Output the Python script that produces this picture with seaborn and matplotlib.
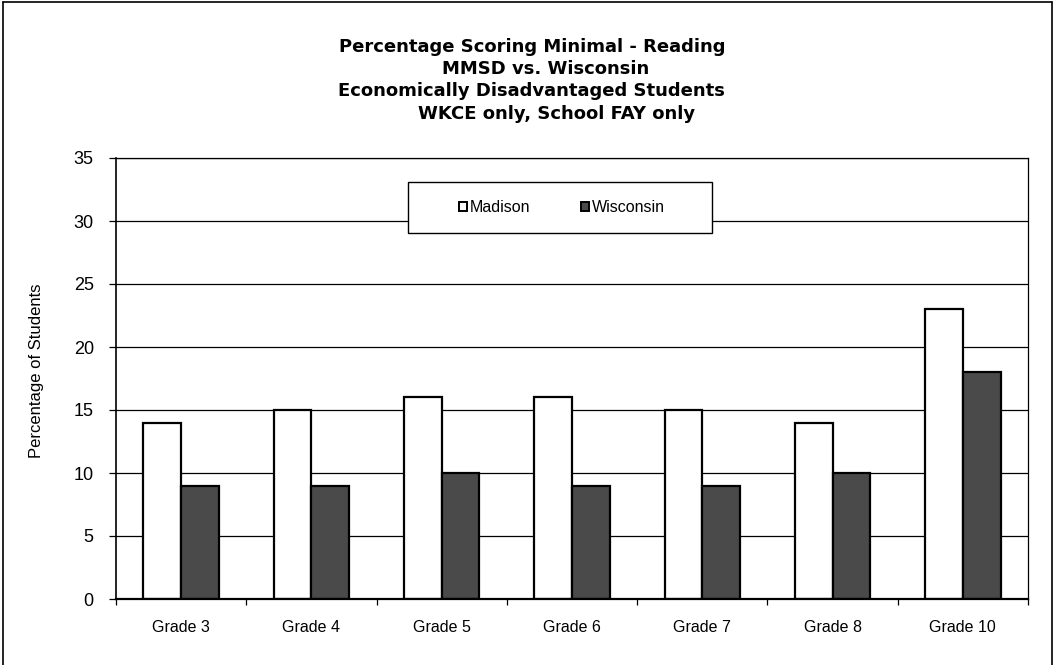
import pandas as pd
import matplotlib
matplotlib.use("Agg")
import matplotlib.pyplot as plt
from matplotlib.lines import Line2D
from matplotlib.patches import Rectangle, Patch
import seaborn as sns

# --- data ---
grades = ["Grade 3", "Grade 4", "Grade 5", "Grade 6", "Grade 7", "Grade 8", "Grade 10"]
madison = [14, 15, 16, 16, 15, 14, 23]
wisconsin = [9, 9, 10, 9, 9, 10, 18]
series = ["Madison", "Wisconsin"]
title_lines = [
    "Percentage Scoring Minimal - Reading",
    "MMSD vs. Wisconsin",
    "Economically Disadvantaged Students",
    "WKCE only, School FAY only",
]

df = pd.DataFrame({
    "grade": grades * 2,
    "district": ["Madison"] * len(grades) + ["Wisconsin"] * len(grades),
    "pct": madison + wisconsin,
})

sns.set_style("white")
plt.rcParams["font.family"] = ["Liberation Sans", "DejaVu Sans"]
plt.rcParams["text.color"] = "black"
plt.rcParams["xtick.color"] = "black"
plt.rcParams["ytick.color"] = "black"

W, H = 1054, 665
fig = plt.figure(figsize=(W / 100, H / 100), dpi=100)
ax = fig.add_axes([116 / W, 1 - 599 / H, (1028 - 116) / W, (599 - 158) / H])

colors = {"Madison": "white", "Wisconsin": "#4a4a4a"}
sns.barplot(data=df, x="grade", y="pct", hue="district", order=grades,
            hue_order=series, palette=colors, width=0.58, gap=0,
            edgecolor="black", linewidth=1.6, saturation=1, legend=False, ax=ax)

ax.set_ylim(0, 35)
ax.set_xlim(-0.5, len(grades) - 0.5)
ax.set_yticks(range(0, 36, 5))
ax.yaxis.grid(True, color="black", linewidth=0.9)
ax.set_axisbelow(True)
ax.set_xlabel("")
ax.set_ylabel("")

for s in ax.spines.values():
    s.set_visible(True)
    s.set_color("black")
    s.set_linewidth(0.9)
ax.spines["left"].set_linewidth(1.2)
ax.spines["bottom"].set_linewidth(1.6)

ax.tick_params(axis="y", which="major", left=True, length=5, width=0.9,
               pad=11, labelsize=13, color="black", labelcolor="black")
ax.tick_params(axis="x", which="major", length=0, pad=15, labelsize=11.5,
               labelcolor="black")
ax.set_xticks([i - 0.5 for i in range(len(grades) + 1)], minor=True)
ax.tick_params(axis="x", which="minor", bottom=True, length=4, width=0.9, color="black")

# legend box
ax.add_patch(Rectangle((0.320, 0.830), 0.3335, 0.1156, transform=ax.transAxes,
                       facecolor="white", edgecolor="black", linewidth=1.0, zorder=4))
handles = [Patch(facecolor=colors[s], edgecolor="black", linewidth=1.4) for s in series]
ax.legend(handles, series, loc="center", bbox_to_anchor=(0.489, 0.888), ncol=2,
          frameon=False, fontsize=11.5, handlelength=0.5, handleheight=0.5,
          handletextpad=0.15, columnspacing=3.2, labelcolor="black")

fig.text(37 / W, 1 - 371 / H, "Percentage of Students", rotation=90,
         ha="center", va="center", fontsize=12, color="black")

# title lines
title_x = [532, 546, 531, 557]
title_base = [51.5, 74, 96.5, 119]
for t, x, y in zip(title_lines, title_x, title_base):
    fig.text(x / W, 1 - y / H, t, ha="center", va="baseline", fontsize=13,
             fontweight="heavy", family="DejaVu Sans", color="black")

# outer chart border (left, top, right)
for xs, ys in [([2.5, 2.5], [0, H - 1.5]), ([2.5, 1052], [H - 1.5, H - 1.5]),
               ([1052, 1052], [0, H - 1.5])]:
    fig.add_artist(Line2D([x / W for x in xs], [y / H for y in ys],
                          transform=fig.transFigure, color="black", linewidth=1.2))

fig.savefig("out.png", dpi=100)
